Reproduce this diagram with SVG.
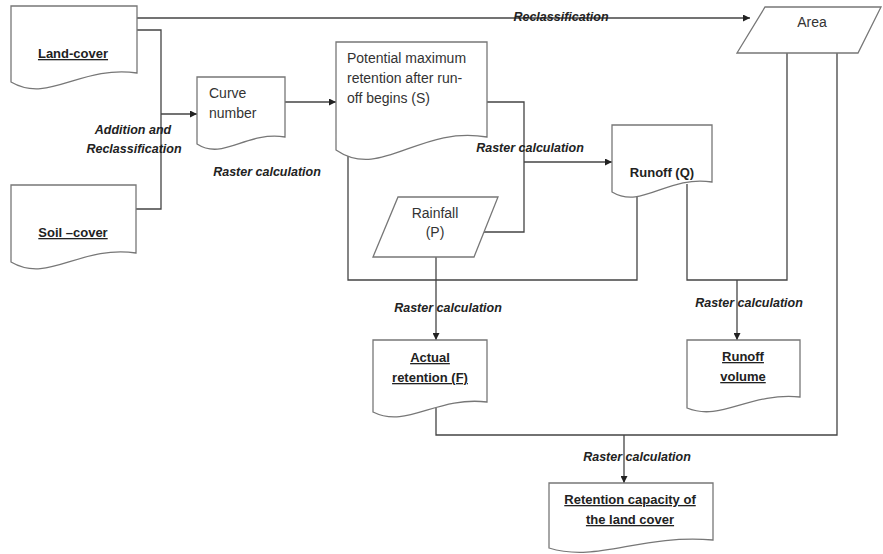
<svg xmlns="http://www.w3.org/2000/svg" width="883" height="554" viewBox="0 0 883 554">
<defs>
<marker id="arr" viewBox="0 0 10 10" refX="10" refY="5" markerWidth="7" markerHeight="7" markerUnits="userSpaceOnUse" orient="auto">
<path d="M0,0 L10,5 L0,10 Z" fill="#222"/>
</marker>
<style>
.shape{fill:#fff;stroke:#777;stroke-width:1.3}
.conn{fill:none;stroke:#444;stroke-width:1.3}
.t{font-family:"Liberation Sans",Arial,sans-serif;font-size:14px;fill:#333}
.b{font-family:"Liberation Sans",Arial,sans-serif;font-size:13px;font-weight:bold;fill:#222;text-decoration:underline}
.bn{font-family:"Liberation Sans",Arial,sans-serif;font-size:13px;font-weight:bold;fill:#222}
.lbl{font-family:"Liberation Sans",Arial,sans-serif;font-size:12.5px;font-weight:bold;font-style:italic;fill:#222}
</style>
</defs>
<rect width="883" height="554" fill="#fff"/>
<g id="connectors">
<path class="conn" d="M137,18 H750" marker-end="url(#arr)"/>
<path class="conn" d="M137,30 H161 V209 H136"/>
<path class="conn" d="M161,114 H197" marker-end="url(#arr)"/>
<path class="conn" d="M285,102 H336" marker-end="url(#arr)"/>
<path class="conn" d="M487,102 H524 V232 H484"/>
<path class="conn" d="M524,162 H612" marker-end="url(#arr)"/>
<path class="conn" d="M348,150 V280 H637 V190"/>
<path class="conn" d="M436,257 V340" marker-end="url(#arr)"/>
<path class="conn" d="M687,184 V280 H787 V53"/>
<path class="conn" d="M737,280 V340" marker-end="url(#arr)"/>
<path class="conn" d="M436,408 V435 H837 V53"/>
<path class="conn" d="M624,435 V483" marker-end="url(#arr)"/>
</g>
<g id="edge-labels">
<text class="lbl" x="561" y="21" text-anchor="middle">Reclassification</text>
<text class="lbl" x="133" y="134" text-anchor="middle">Addition and</text>
<text class="lbl" x="134" y="153" text-anchor="middle">Reclassification</text>
<text class="lbl" x="267" y="176" text-anchor="middle">Raster calculation</text>
<text class="lbl" x="530" y="152" text-anchor="middle">Raster calculation</text>
<text class="lbl" x="448" y="312" text-anchor="middle">Raster calculation</text>
<text class="lbl" x="749" y="307" text-anchor="middle">Raster calculation</text>
<text class="lbl" x="637" y="461" text-anchor="middle">Raster calculation</text>
</g>
<g id="land-cover">
<path class="shape" d="M11,6 H137 V73 C80.3,65 48.8,104 11,82 Z"/>
<text class="b" x="73" y="58" text-anchor="middle">Land-cover</text>
</g>
<g id="soil-cover">
<path class="shape" d="M11,185 H136 V253 C79.75,245 48.5,284 11,262 Z"/>
<text class="b" x="73" y="237" text-anchor="middle">Soil –cover</text>
</g>
<g id="curve-number">
<path class="shape" d="M197,77 H285 V137 C245.4,131 223.4,161 197,144 Z"/>
<text class="t" x="209" y="98">Curve</text>
<text class="t" x="209" y="118">number</text>
</g>
<g id="potential-retention">
<path class="shape" d="M336,42 H487 V137 C419,125 381.3,181 336,150 Z"/>
<text class="t" x="347" y="63">Potential maximum</text>
<text class="t" x="347" y="83">retention after run-</text>
<text class="t" x="347" y="103">off begins (S)</text>
</g>
<g id="rainfall">
<path class="shape" d="M398,197 L498,197 L474,257 L373,257 Z"/>
<text class="t" x="435" y="218" text-anchor="middle">Rainfall</text>
<text class="t" x="435" y="237" text-anchor="middle">(P)</text>
</g>
<g id="area">
<path class="shape" d="M765,7 L881,7 L858,53 L737,53 Z"/>
<text class="t" x="812" y="27" text-anchor="middle">Area</text>
</g>
<g id="runoff-q">
<path class="shape" d="M612,125 H712 V182 C667,175 642,210 612,192 Z"/>
<text class="bn" x="662" y="177" text-anchor="middle">Runoff (Q)</text>
</g>
<g id="actual-retention">
<path class="shape" d="M373,340 H487 V402 C435.7,396 407.2,429 373,412 Z"/>
<text class="b" x="430" y="362" text-anchor="middle">Actual</text>
<text class="b" x="430" y="382" text-anchor="middle">retention (F)</text>
</g>
<g id="runoff-volume">
<path class="shape" d="M687,340 H800 V397 C749,392 721,422 687,408 Z"/>
<text class="b" x="743" y="361" text-anchor="middle">Runoff</text>
<text class="b" x="743" y="381" text-anchor="middle">volume</text>
</g>
<g id="retention-capacity">
<path class="shape" d="M549,483 H713 V540 C639,534 598,563 549,548 Z"/>
<text class="b" x="630" y="504" text-anchor="middle">Retention capacity of</text>
<text class="b" x="630" y="524" text-anchor="middle">the land cover</text>
</g>
</svg>
